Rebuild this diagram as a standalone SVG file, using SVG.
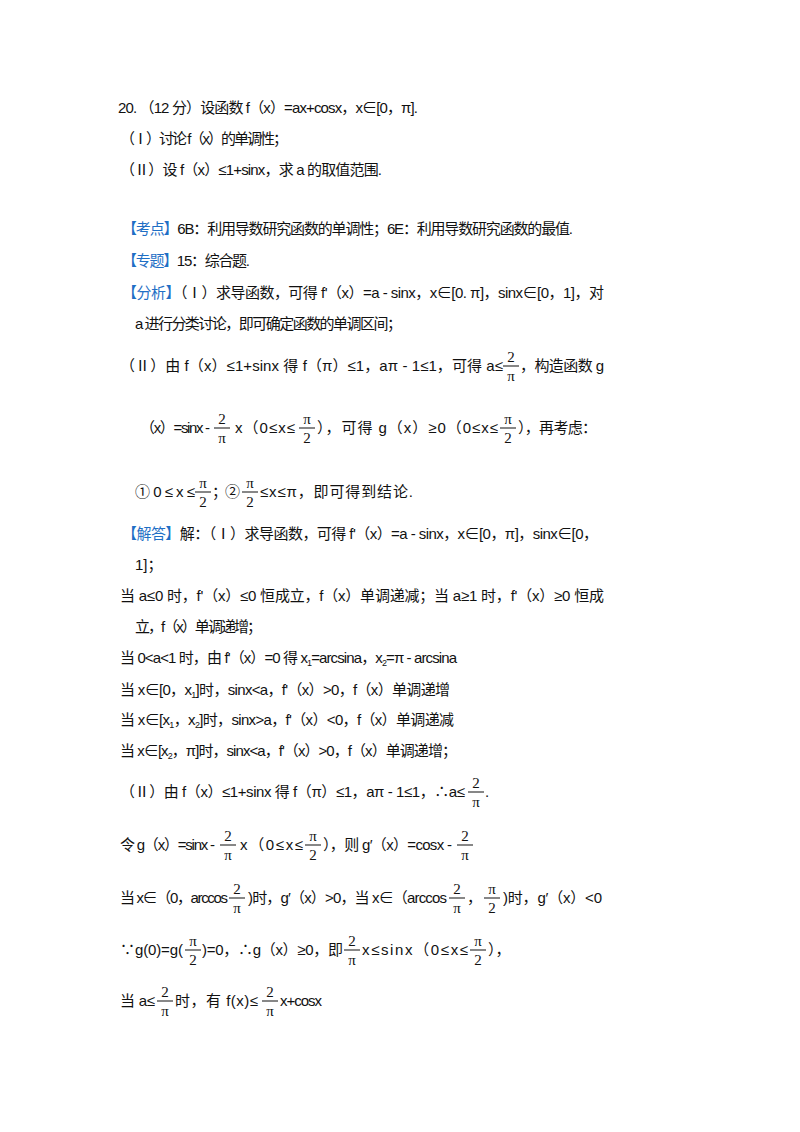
<svg xmlns="http://www.w3.org/2000/svg" width="800" height="1132" viewBox="0 0 800 1132">
<style>
text{font-family:"Liberation Sans","Noto Sans CJK SC",sans-serif;font-size:15px;fill:#111}
.b{fill:#1F6FC5}
.f{font-family:"Liberation Serif","Noto Sans CJK SC",serif;font-size:15px;text-anchor:middle}
.fr{fill:#111}
</style>
<rect width="800" height="1132" fill="#fff"/>
<g id="problem">
<text x="118" y="113" textLength="300" lengthAdjust="spacing">20.  （12 分）设函数 f（x）=ax+cosx，x∈[0，π].</text>
<text x="120" y="144" textLength="168" lengthAdjust="spacing">（Ⅰ）讨论 f（x）的单调性；</text>
<text x="120" y="175" textLength="262" lengthAdjust="spacing">（Ⅱ）设 f（x）≤1+sinx，求 a 的取值范围.</text>
</g>
<g id="analysis">
<text x="122" y="234" textLength="451" lengthAdjust="spacing"><tspan class="b">【考点】</tspan>6B：利用导数研究函数的单调性；6E：利用导数研究函数的最值.</text>
<text x="122" y="266" textLength="128" lengthAdjust="spacing"><tspan class="b">【专题】</tspan>15：综合题.</text>
<text x="122" y="298" textLength="482" lengthAdjust="spacing"><tspan class="b">【分析】</tspan>（Ⅰ）求导函数，可得 f'（x）=a - sinx，x∈[0. π]，sinx∈[0，1]，对</text>
<text x="135" y="329" textLength="267" lengthAdjust="spacing">a 进行分类讨论，即可确定函数的单调区间；</text>
<text x="120" y="371" textLength="383" lengthAdjust="spacing">（Ⅱ）由 f（x）≤1+sinx 得 f（π）≤1，aπ - 1≤1，可得 a≤</text>
<text class="f" x="511" y="362">2</text><rect class="fr" x="503" y="365.5" width="16" height="1"/><text class="f" x="511" y="381">π</text>
<text x="520" y="371" textLength="84" lengthAdjust="spacing">，构造函数 g</text>
<text x="140" y="433" textLength="70" lengthAdjust="spacing">（x）=sinx -</text>
<text class="f" x="222" y="424">2</text><rect class="fr" x="214" y="427.5" width="16" height="1"/><text class="f" x="222" y="443">π</text>
<text x="235" y="433" textLength="60" lengthAdjust="spacing">x（0≤x≤</text>
<text class="f" x="307" y="424">π</text><rect class="fr" x="299" y="427.5" width="16" height="1"/><text class="f" x="307" y="443">2</text>
<text x="317" y="433" textLength="181" lengthAdjust="spacing">），可得 g（x）≥0（0≤x≤</text>
<text class="f" x="508" y="424">π</text><rect class="fr" x="500" y="427.5" width="16" height="1"/><text class="f" x="508" y="443">2</text>
<text x="518" y="433" textLength="79" lengthAdjust="spacing">），再考虑：</text>
<text x="135" y="497" textLength="60" lengthAdjust="spacing">①0≤x≤</text>
<text class="f" x="203" y="488">π</text><rect class="fr" x="195" y="491.5" width="16" height="1"/><text class="f" x="203" y="507">2</text>
<text x="212" y="497" textLength="28" lengthAdjust="spacing">；②</text>
<text class="f" x="250" y="488">π</text><rect class="fr" x="242" y="491.5" width="16" height="1"/><text class="f" x="250" y="507">2</text>
<text x="260" y="497" textLength="153" lengthAdjust="spacing">≤x≤π，即可得到结论.</text>
</g>
<g id="solution">
<text x="122" y="539" textLength="476" lengthAdjust="spacing"><tspan class="b">【解答】</tspan>解：（Ⅰ）求导函数，可得 f'（x）=a - sinx，x∈[0，π]，sinx∈[0，</text>
<text x="135" y="570">1]；</text>
<text x="120" y="601" textLength="484" lengthAdjust="spacing">当 a≤0 时，f'（x）≤0 恒成立，f（x）单调递减；当 a≥1 时，f'（x）≥0 恒成</text>
<text x="135" y="632" textLength="127" lengthAdjust="spacing">立，f（x）单调递增；</text>
<text x="120" y="663" textLength="337" lengthAdjust="spacing">当 0&lt;a&lt;1 时，由 f'（x）=0 得 x<tspan font-size="9" dy="3">1</tspan><tspan dy="-3">=arcsina，x</tspan><tspan font-size="9" dy="3">2</tspan><tspan dy="-3">=π - arcsina</tspan></text>
<text x="120" y="695" textLength="330" lengthAdjust="spacing">当 x∈[0，x<tspan font-size="9" dy="3">1</tspan><tspan dy="-3">]时，sinx&lt;a，f'（x）&gt;0，f（x）单调递增</tspan></text>
<text x="120" y="725" textLength="334" lengthAdjust="spacing">当 x∈[x<tspan font-size="9" dy="3">1</tspan><tspan dy="-3">，x</tspan><tspan font-size="9" dy="3">2</tspan><tspan dy="-3">]时，sinx&gt;a，f'（x）&lt;0，f（x）单调递减</tspan></text>
<text x="120" y="756" textLength="337" lengthAdjust="spacing">当 x∈[x<tspan font-size="9" dy="3">2</tspan><tspan dy="-3">，π]时，sinx&lt;a，f'（x）&gt;0，f（x）单调递增；</tspan></text>
<text x="120" y="797" textLength="345" lengthAdjust="spacing">（Ⅱ）由 f（x）≤1+sinx 得 f（π）≤1，aπ - 1≤1，∴a≤</text>
<text class="f" x="476" y="788">2</text><rect class="fr" x="468" y="791.5" width="16" height="1"/><text class="f" x="476" y="807">π</text>
<text x="485" y="797">.</text>
<text x="120" y="850" textLength="95" lengthAdjust="spacing">令 g（x）=sinx -</text>
<text class="f" x="228" y="841">2</text><rect class="fr" x="220" y="844.5" width="16" height="1"/><text class="f" x="228" y="860">π</text>
<text x="240" y="850" textLength="63" lengthAdjust="spacing">x（0≤x≤</text>
<text class="f" x="313" y="841">π</text><rect class="fr" x="305" y="844.5" width="16" height="1"/><text class="f" x="313" y="860">2</text>
<text x="323" y="850" textLength="129" lengthAdjust="spacing">），则 g′（x）=cosx -</text>
<text class="f" x="465" y="841">2</text><rect class="fr" x="457" y="844.5" width="16" height="1"/><text class="f" x="465" y="860">π</text>
<text x="120" y="903" textLength="108" lengthAdjust="spacing">当 x∈（0，arccos</text>
<text class="f" x="237" y="894">2</text><rect class="fr" x="229" y="897.5" width="16" height="1"/><text class="f" x="237" y="913">π</text>
<text x="248" y="903" textLength="199" lengthAdjust="spacing">)时，g′（x）&gt;0，当 x∈（arccos</text>
<text class="f" x="457" y="894">2</text><rect class="fr" x="449" y="897.5" width="16" height="1"/><text class="f" x="457" y="913">π</text>
<text x="467" y="903">，</text>
<text class="f" x="492" y="894">π</text><rect class="fr" x="484" y="897.5" width="16" height="1"/><text class="f" x="492" y="913">2</text>
<text x="503" y="903" textLength="99" lengthAdjust="spacing">)时，g′（x）&lt;0</text>
<text x="120" y="955" textLength="63" lengthAdjust="spacing">∵g(0)=g(</text>
<text class="f" x="193" y="946">π</text><rect class="fr" x="185" y="949.5" width="16" height="1"/><text class="f" x="193" y="965">2</text>
<text x="202" y="955" textLength="141" lengthAdjust="spacing">)=0，∴g（x）≥0，即</text>
<text class="f" x="352" y="946">2</text><rect class="fr" x="344" y="949.5" width="16" height="1"/><text class="f" x="352" y="965">π</text>
<text x="362" y="955" textLength="106" lengthAdjust="spacing">x≤sinx（0≤x≤</text>
<text class="f" x="478" y="946">π</text><rect class="fr" x="470" y="949.5" width="16" height="1"/><text class="f" x="478" y="965">2</text>
<text x="488" y="955">），</text>
<text x="120" y="1006" textLength="35" lengthAdjust="spacing">当 a≤</text>
<text class="f" x="165" y="997">2</text><rect class="fr" x="157" y="1000.5" width="16" height="1"/><text class="f" x="165" y="1016">π</text>
<text x="175" y="1006" textLength="83" lengthAdjust="spacing">时，有 f(x)≤</text>
<text class="f" x="270" y="997">2</text><rect class="fr" x="262" y="1000.5" width="16" height="1"/><text class="f" x="270" y="1016">π</text>
<text x="280" y="1006" textLength="42" lengthAdjust="spacing">x+cosx</text>
</g>
</svg>
